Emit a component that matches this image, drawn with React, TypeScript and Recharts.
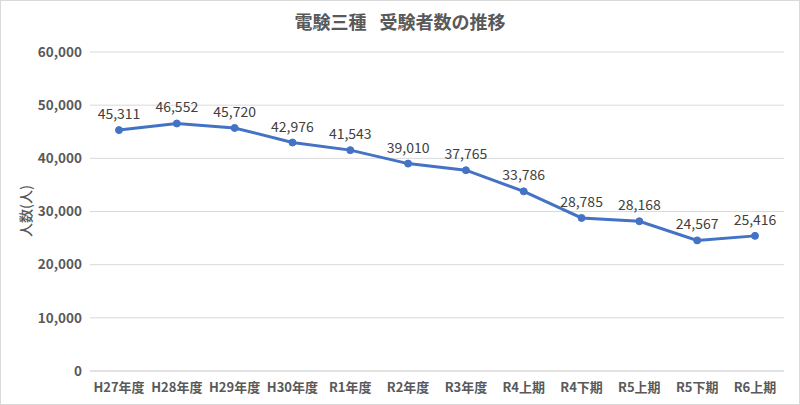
import React from "react";
import { CartesianGrid, LabelList, Line, LineChart, XAxis, YAxis, Label } from "recharts";

const categories = ["H27年度", "H28年度", "H29年度", "H30年度", "R1年度", "R2年度", "R3年度", "R4上期", "R4下期", "R5上期", "R5下期", "R6上期"];
const examinees = [45311, 46552, 45720, 42976, 41543, 39010, 37765, 33786, 28785, 28168, 24567, 25416];
const yTicks = [0, 10000, 20000, 30000, 40000, 50000, 60000];

const data = categories.map((name, i) => ({ name, value: examinees[i] }));

const FONT = '"Noto Sans CJK JP", "Noto Sans", sans-serif';
const fmt = (v: number) => v.toLocaleString("en-US");

const App = () => {
  return (
    <div style={{ position: "absolute", left: 0, top: 0, width: 800, height: 405, fontFamily: FONT, background: "#fff" }}>
      <div style={{ position: "absolute", inset: 0, border: "1px solid #d9d9d9", boxSizing: "border-box" }} />
      <div
        style={{
          position: "absolute",
          top: 8,
          width: 800,
          textAlign: "center",
          fontSize: 18,
          fontWeight: "bold",
          color: "#595959",
          whiteSpace: "pre",
        }}
      >
        電験三種<span style={{ display: "inline-block", width: 13 }} />受験者数の推移
      </div>
      <LineChart width={800} height={405} data={data} margin={{ top: 52, right: 16, bottom: 4, left: 0 }}>
        <CartesianGrid vertical={false} stroke="#d9d9d9" />
        <XAxis
          dataKey="name"
          height={30}
          padding={{ left: 29, right: 29 }}
          axisLine={{ stroke: "#d9d9d9" }}
          tickLine={false}
          tickMargin={6}
          tick={{ fill: "#595959", fontSize: 13, fontWeight: "bold", fontFamily: FONT }}
          interval={0}
        />
        <YAxis
          width={90}
          domain={[0, 60000]}
          ticks={yTicks}
          tickFormatter={fmt}
          axisLine={false}
          tickLine={false}
          tickSize={0}
          tickMargin={8}
          tick={{ fill: "#595959", fontSize: 13.5, fontWeight: "bold", fontFamily: FONT }}
        >
          <Label
            content={() => (
              <text
                x={25}
                y={211}
                transform="rotate(-90 25 211)"
                textAnchor="middle"
                dominantBaseline="central"
                fill="#595959"
                fontSize={14}
                fontWeight={500}
                fontFamily={FONT}
              >
                人数(人)
              </text>
            )}
          />
        </YAxis>
        <Line
          type="linear"
          dataKey="value"
          stroke="#4472C4"
          strokeWidth={3}
          dot={{ r: 3.5, fill: "#4472C4", stroke: "#4472C4", strokeWidth: 1 }}
          isAnimationActive={false}
        >
          <LabelList
            dataKey="value"
            position="top"
            offset={11}
            formatter={(v: any) => fmt(Number(v))}
            style={{ fill: "#404040", fontSize: 14, fontFamily: FONT }}
          />
        </Line>
      </LineChart>
    </div>
  );
};

export default App;
